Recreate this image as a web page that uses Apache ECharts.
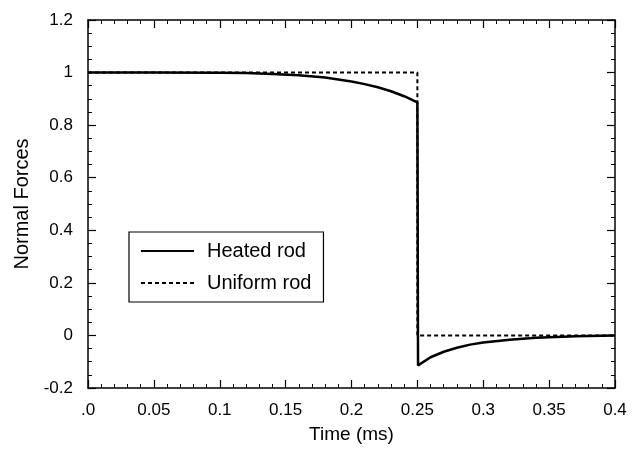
<!DOCTYPE html>
<html>
<head>
<meta charset="utf-8">
<script src="https://cdn.jsdelivr.net/npm/echarts@6/dist/echarts.min.js"></script>
<style>html,body{margin:0;padding:0;background:#fff}#c{width:640px;height:449px}</style>
</head>
<body>
<div id="c"></div>
<script>
var heatedTime  = [0, 0.05, 0.1, 0.12, 0.14, 0.16, 0.18, 0.2, 0.21, 0.22, 0.23, 0.24, 0.25, 0.2505, 0.252, 0.26, 0.27, 0.28, 0.29, 0.3, 0.32, 0.34, 0.35, 0.37, 0.38, 0.4];
var heatedForce = [1, 1, 0.999, 0.998, 0.995, 0.99, 0.981, 0.966, 0.956, 0.944, 0.929, 0.91, 0.887, -0.114, -0.108, -0.083, -0.062, -0.047, -0.035, -0.027, -0.016, -0.009, -0.007, -0.003, -0.002, 0];
var uniformTime  = [0, 0.25, 0.25, 0.4];
var uniformForce = [1, 1, 0, 0];
var seriesNames = ['Heated rod', 'Uniform rod'];
var xTicks = [0, 0.05, 0.1, 0.15, 0.2, 0.25, 0.3, 0.35, 0.4];
var yTicks = [-0.2, 0, 0.2, 0.4, 0.6, 0.8, 1, 1.2];

function pairs(xs, ys){ return xs.map(function(x,i){ return [x, ys[i]]; }); }

var font = 'Liberation Sans, Arial, sans-serif';
var chart = echarts.init(document.getElementById('c'));
function xAx(pos, labels){
  return {
    type:'value', position:pos, min:0, max:0.4, interval:0.05,
    axisLine:{show:true, onZero:false, lineStyle:{color:'#000', width:1.5}},
    axisTick:{show:true, inside:true, length:8, lineStyle:{color:'#000', width:1.2}},
    minorTick:{show:true, splitNumber:5, length:4, lineStyle:{color:'#000', width:1}},
    splitLine:{show:false},
    axisLabel:{show:labels, color:'#000', fontFamily:font, fontSize:17, margin:14,
      formatter:function(v){ return Math.abs(v) < 1e-9 ? '.0' : String(+v.toFixed(2)); }},
    name: labels ? 'Time (ms)' : '', nameLocation:'middle', nameGap:37,
    nameTextStyle:{color:'#000', fontFamily:font, fontSize:19}
  };
}
function yAx(pos, labels){
  return {
    type:'value', position:pos, min:-0.2, max:1.2, interval:0.2,
    axisLine:{show:true, onZero:false, lineStyle:{color:'#000', width:1.5}},
    axisTick:{show:true, inside:true, length:8, lineStyle:{color:'#000', width:1.2}},
    minorTick:{show:true, splitNumber:4, length:4, lineStyle:{color:'#000', width:1}},
    splitLine:{show:false},
    axisLabel:{show:labels, color:'#000', fontFamily:font, fontSize:17, margin:15,
      formatter:function(v){ return String(+v.toFixed(1)); }},
    name: labels ? 'Normal Forces' : '', nameLocation:'middle', nameGap:55,
    nameTextStyle:{color:'#000', fontFamily:font, fontSize:20}
  };
}
chart.setOption({
  animation:false,
  backgroundColor:'#fff',
  grid:{left:88, right:25, top:20, bottom:61, containLabel:false, outerBoundsMode:'none'},
  xAxis:[xAx('bottom', true), xAx('top', false)],
  yAxis:[yAx('left', true), yAx('right', false)],
  legend:{
    left:129, top:232, orient:'vertical', data:seriesNames,
    borderColor:'#000', borderWidth:1.2, padding:[9,12,9,11], itemGap:12,
    itemWidth:53, itemHeight:10,
    itemStyle:{opacity:0},
    textStyle:{color:'#000', fontFamily:font, fontSize:20, padding:[0,0,0,8]}
  },
  series:[
    {name:seriesNames[0], type:'line', xAxisIndex:0, yAxisIndex:0, data:pairs(heatedTime, heatedForce),
     symbol:'none', smooth:false, lineStyle:{color:'#000', width:2.5}, itemStyle:{color:'#000'}},
    {name:seriesNames[1], type:'line', xAxisIndex:0, yAxisIndex:0, data:pairs(uniformTime, uniformForce),
     symbol:'none', lineStyle:{color:'#000', width:2, type:[4,3]}, itemStyle:{color:'#000'}}
  ]
});
</script>
</body>
</html>
